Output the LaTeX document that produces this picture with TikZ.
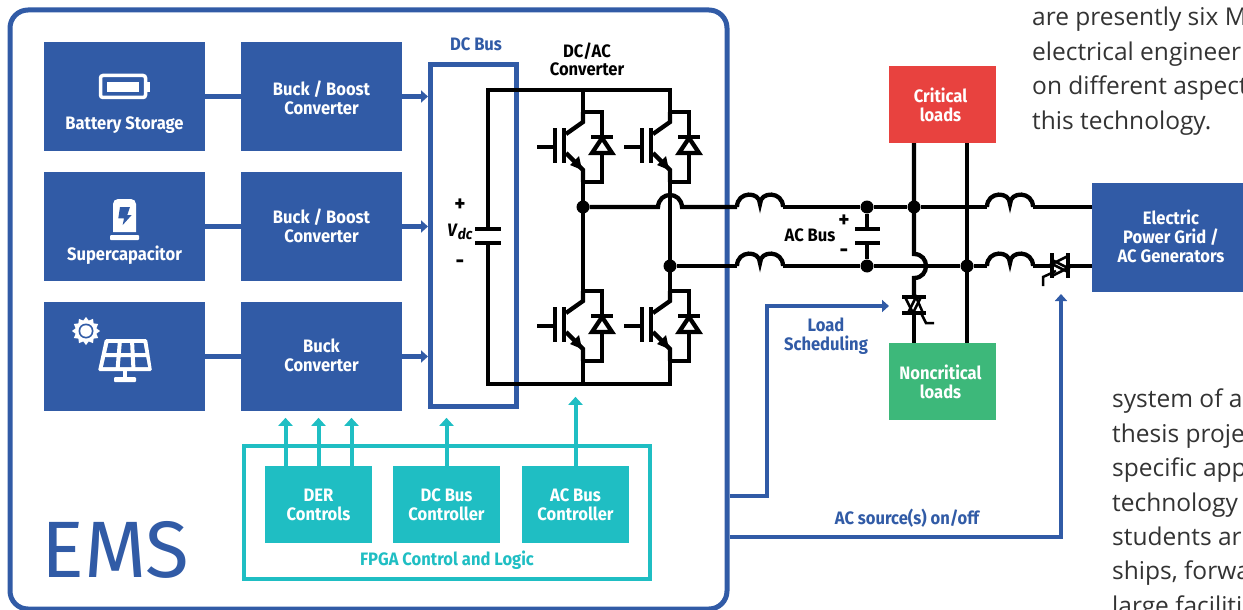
\documentclass[tikz,border=0pt]{standalone}
\usepackage{fontspec}
\setmainfont{Fira Sans}[FakeStretch=0.92]
\newfontfamily\pagefont{Open Sans}
\newfontfamily\emsfont{Fira Sans}
\usetikzlibrary{arrows.meta, shapes.geometric}

\definecolor{gridblue}{HTML}{315BA6}
\definecolor{ctrlteal}{HTML}{1FBEC3}
\definecolor{loadred}{HTML}{E8423F}
\definecolor{loadgreen}{HTML}{3DB87A}

\tikzset{
  wire/.style={line width=4.3pt, black},
  panel/.style={fill=gridblue, minimum width=161pt, minimum height=109pt, inner sep=0pt},
  paneltext/.style={text=white, font=\bfseries\fontsize{18}{19}\selectfont, align=center, inner sep=0pt},
  bluetext/.style={text=gridblue, font=\bfseries\fontsize{18}{19}\selectfont, align=center, inner sep=0pt},
  tealtext/.style={text=ctrlteal, font=\bfseries\fontsize{18}{19}\selectfont, align=center, inner sep=0pt},
  blacktext/.style={text=black, font=\bfseries\fontsize{18}{18}\selectfont, align=center, inner sep=0pt},
  signtext/.style={text=black, font=\bfseries\fontsize{23}{23}\selectfont, inner sep=0pt},
  ctrlbox/.style={fill=ctrlteal, minimum width=107pt, minimum height=77pt, inner sep=0pt, paneltext},
  loadbox/.style={minimum width=107pt, minimum height=77pt, inner sep=0pt},
  dot/.style={circle, fill=black, minimum size=13pt, inner sep=0pt},
  busline/.style={line width=4.5pt, gridblue},
  busarrow/.style={busline, -{Triangle[length=7pt, width=12pt]}},
  ctrlarrow/.style={line width=4pt, ctrlteal, -{Triangle[length=8pt, width=14pt]}},
  pagetext/.style={text=black!80, font=\pagefont\fontsize{24.5}{34.4}\selectfont, align=left, inner sep=0pt, anchor=north west},
  coil/.pic={\draw[wire] (0,0) .. controls (0,-16) and (23,-16) .. (23,-3)
                               .. controls (23,-16) and (46,-16) .. (46,0);},
  igbt/.pic={
    \draw[wire] (0,0) -- (0,10) -- (-17,22);
    \draw[wire] (-19,16) -- (-19,51);
    \draw[wire] (-28,16) -- (-28,51);
    \draw[wire] (-46,35) -- (-28,35);
    \draw[wire] (-17,41) -- (0,58) -- (0,70);
    \fill[black] (-1,58) -- (-13,53) -- (-4,44) -- cycle;
    % freewheel diode
    \draw[wire] (0,0) -- (19,0) -- (19,70) -- (0,70);
    \draw[wire, fill=white] (19,26) -- (9,41) -- (29,41) -- cycle;
    \draw[wire] (8,25) -- (30,25);
  }
}

\begin{document}
\begin{tikzpicture}[x=1pt, y=-1pt]
\path[use as bounding box, clip] (0,0) rectangle (1243,610);

% EMS frame
\node[draw=gridblue, line width=5pt, rounded corners=18pt, minimum width=717pt, minimum height=599pt, inner sep=0pt] (emsbox) at (368.5,309.5) {};
\node[text=gridblue, font=\emsfont\fontsize{80}{80}\selectfont, inner sep=0pt] (emstext) at (115,550) {EMS};

% Sources
\node[panel] (battery) at (124.5,96.5) {};
\node[panel] (supercap) at (124.5,226.5) {};
\node[panel] (solar) at (124.5,356.5) {};
\node[paneltext] (batterytext) at (124.5,125.5) {Battery Storage};
\node[paneltext] (supercaptext) at (124.5,255.5) {Supercapacitor};

% Converters
\node[panel] (buckboostA) at (321.5,96.5) {};
\node[panel] (buckboostB) at (321.5,226.5) {};
\node[panel] (buck) at (321.5,356.5) {};
\node[paneltext] (buckboostAtext) at (321.5,97.5) {Buck / Boost\\Converter};
\node[paneltext] (buckboostBtext) at (321.5,225.5) {Buck / Boost\\Converter};
\node[paneltext] (bucktext) at (321.5,355.5) {Buck\\Converter};

% Battery icon
\draw[white, line width=3.5pt, rounded corners=2.5pt] (100.5,75.5) rectangle (145.5,97.5);
\fill[white] (147,82) rectangle (150,92);
\fill[white] (107,82) rectangle (139,92);
% Supercapacitor icon
\fill[white] (113,232) {[rounded corners=5pt] -- (113,199) -- (136,199)} -- (136,232) -- cycle;
\fill[white, rounded corners=1pt] (110,235) rectangle (139,240);
\fill[gridblue] (120,207) -- (130,207) -- (127.3,215) -- (131.7,215) -- (122.7,225) -- (124,218.3) -- (118.3,218.3) -- cycle;
% Solar icon
\node[star, star points=12, star point ratio=1.3, fill=white, minimum size=28pt, inner sep=0pt] (sunrays) at (86,331) {};
\node[circle, fill=gridblue, minimum size=15pt, inner sep=0pt] (sunring) at (86,331) {};
\node[circle, fill=white, minimum size=11.5pt, inner sep=0pt] (sundisc) at (86,331) {};
\fill[white, rounded corners=1.5pt] (105,339) -- (147,339) -- (152,371) -- (98,371) -- cycle;
\fill[gridblue] (108.5,343) -- (143.5,343) -- (148,367) -- (103,367) -- cycle;
\draw[white, line width=4pt] (104,355) -- (148,355) (120,340) -- (117.5,370) (132,340) -- (133.5,370);
\fill[white] (123,371) rectangle (127,378);
\fill[white, rounded corners=1pt] (114,377) rectangle (136,382);

% DC bus
\node[draw=gridblue, line width=5pt, minimum width=86pt, minimum height=342pt, inner sep=0pt] (dcbus) at (473.5,235.5) {};
\node[bluetext] (dcbustext) at (476,44) {DC Bus};
\draw[busline] (battery) -- (buckboostA);
\draw[busline] (supercap) -- (buckboostB);
\draw[busline] (solar) -- (buck);
\draw[busarrow] (buckboostA) -- (buckboostA -| dcbus.west);
\draw[busarrow] (buckboostB) -- (buckboostB -| dcbus.west);
\draw[busarrow] (buck) -- (buck -| dcbus.west);

% DC link capacitor
\node[blacktext] (convtext) at (587,59) {DC/AC\\Converter};
\node[signtext] (vplus) at (460,205) {+};
\node[blacktext] (vdc) at (460,232) {\textit{V}\raisebox{-3pt}{\fontsize{15}{15}\selectfont\textit{dc}}};
\node[signtext] (vminus) at (460,264) {-};
\coordinate (dcplateA) at (488,229);
\coordinate (dcplateB) at (488,243);
\draw[wire] (475,229) -- (501,229) (475,243) -- (501,243);
\draw[wire] (dcplateA) -- (488,90) -- (670,90) -- (670,112);
\draw[wire] (dcplateB) -- (488,384) -- (670,384) -- (670,361);

% Switches
\foreach \sx/\sy in {583/112, 670/112, 583/291, 670/291}
  \pic at (\sx,\sy) {igbt};
\draw[wire] (583,90) -- (583,112) (583,182) -- (583,291) (583,361) -- (583,384);
\draw[wire] (670,182) -- (670,291);

% Junctions
\node[dot] (legA) at (583,207) {};
\node[dot] (legB) at (670,266) {};
\node[dot] (capA) at (867,207) {};
\node[dot] (capB) at (867,266) {};
\node[dot] (critA) at (914,207) {};
\node[dot] (noncritB) at (967,266) {};

% Loads and grid
\node[loadbox, fill=loadred] (critical) at (942.5,104.5) {};
\node[loadbox, fill=loadgreen] (noncritical) at (942.5,381.5) {};
\node[panel, minimum width=158pt] (grid) at (1171,237.5) {};
\node[paneltext] (criticaltext) at (940.5,104.5) {Critical\\loads};
\node[paneltext] (noncriticaltext) at (940.5,381.5) {Noncritical\\loads};
\node[paneltext] (gridtext) at (1171,236.5) {Electric\\Power Grid /\\AC Generators};

% AC bus, line 1
\draw[wire] (legA) -- (658,207) .. controls (659,191) and (681,191) .. (682,207) -- (737,207);
\pic at (737,207) {coil};
\draw[wire] (783,207) -- (capA) -- (critA) -- (987,207);
\pic at (987,207) {coil};
\draw[wire] (1033,207) -- (grid.west |- critA);
% AC bus, line 2
\draw[wire] (legB) -- (737,266);
\pic at (737,266) {coil};
\draw[wire] (783,266) -- (capB) -- (noncritB) -- (987,266);
\pic at (987,266) {coil};
\draw[wire] (1033,266) -- (1052,266) (1068,266) -- (grid.west |- noncritB);

% AC bus capacitor
\draw[wire] (capA) -- (867,229) (867,243) -- (capB);
\draw[wire] (855,229) -- (880,229) (855,243) -- (880,243);
\node[blacktext] (acbustext) at (810,235) {AC Bus};
\node[signtext] (acplus) at (844,221) {+};
\node[signtext] (acminus) at (844,253) {-};

% Load branches
\draw[wire] (914,143) -- (914,254) .. controls (930,254) and (930,278) .. (914,278) -- (914,297);
\draw[wire] (914,313) -- (914,343);
\draw[wire] (967,143) -- (967,343);
% TRIAC to noncritical loads
\draw[wire] (902,297) -- (926,297) (902,313) -- (926,313);
\draw[line width=2.5pt] (905,297) -- (913,313) -- (921,297);
\draw[line width=2.5pt] (908,313) -- (916,297) -- (923,313);
\draw[line width=2.5pt] (921,313) -- (926,323) -- (934,323);
% TRIAC to grid
\draw[wire] (1052,253) -- (1052,278) (1068,253) -- (1068,278);
\draw[line width=2.5pt] (1068,256) -- (1052,264) -- (1068,272);
\draw[line width=2.5pt] (1052,260) -- (1068,268) -- (1052,276);
\draw[line width=2.5pt] (1056,271) -- (1043,277) -- (1043,286);

% FPGA block
\node[draw=ctrlteal, line width=4pt, minimum width=406pt, minimum height=133pt, inner sep=0pt] (fpga) at (447,512.5) {};
\node[tealtext] (fpgatext) at (447,560) {FPGA Control and Logic};
\node[ctrlbox] (dercontrols) at (318.5,504.5) {DER\\Controls};
\node[ctrlbox] (dccontroller) at (446.5,504.5) {DC Bus\\Controller};
\node[ctrlbox] (accontroller) at (575.5,504.5) {AC Bus\\Controller};
\draw[ctrlarrow] ([xshift=-33pt]dercontrols.north) -- ++(0,-48);
\draw[ctrlarrow] (dercontrols.north) -- ++(0,-48);
\draw[ctrlarrow] ([xshift=33pt]dercontrols.north) -- ++(0,-48);
\draw[ctrlarrow] (dccontroller.north) -- ++(0,-48);
\draw[ctrlarrow] (accontroller.north) -- ++(0,-69);

% Control signals from EMS
\coordinate (loadturn) at (767,306);
\coordinate (loadtip) at (889,306);
\coordinate (srcturn) at (1061,537);
\coordinate (srctip) at (1061,294);
\draw[busarrow] (emsbox.east |- 0,496) -- (767,496) -- (loadturn) -- (loadtip);
\draw[busarrow] (emsbox.east |- srcturn) -- (srcturn) -- (srctip);
\node[bluetext] (loadtext) at (826,336) {Load\\Scheduling};
\node[bluetext] (srctext) at (907,518) {AC source(s) on/off};

% Page text around the figure
\node[pagetext] (pageupper) at (1032,7) {are presently six M\\electrical engineer\\on different aspect\\this technology.};
\node[pagetext] (pagelower) at (1112,389) {system of a\\thesis proje\\specific app\\technology\\students ar\\ships, forwa\\large faciliti};
\end{tikzpicture}
\end{document}
